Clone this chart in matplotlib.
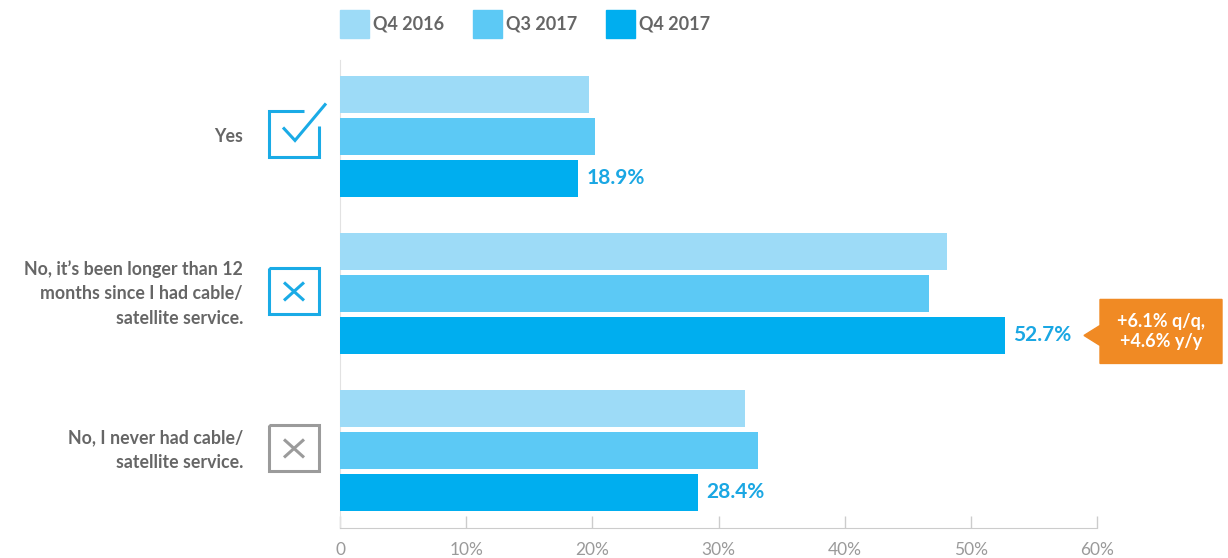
import matplotlib.pyplot as plt
import matplotlib.transforms as mtransforms
from matplotlib.patches import Rectangle, Polygon
from matplotlib.lines import Line2D

plt.rcParams['font.family'] = ['Lato', 'DejaVu Sans']

# survey answers and quarterly shares (%)
answers = ["Yes",
           "No, it\u2019s been longer than 12\nmonths since I had cable/\nsatellite service.",
           "No, I never had cable/\nsatellite service."]
quarters = ["Q4 2016", "Q3 2017", "Q4 2017"]
q4_2016 = [19.7, 48.1, 32.1]
q3_2017 = [20.2, 46.7, 33.1]
q4_2017 = [18.9, 52.7, 28.4]
callout_text = "+6.1% q/q,\n+4.6% y/y"
xticks = [0, 10, 20, 30, 40, 50, 60]

colors = ["#9DDBF7", "#5CC9F5", "#00AEEF"]
blue_text = "#1AA7E3"
gray_text = "#666666"

W, H = 1228, 558
fig = plt.figure(figsize=(W / 100, H / 100), dpi=100)
ax = fig.add_axes([340 / W, (H - 528) / H, (1097 - 340) / W, (528 - 60) / H])

# pixel coords with origin at top-left
px = mtransforms.Affine2D().scale(1 / W, -1 / H).translate(0, 1) + fig.transFigure

step = 42 / 157
height = 37 / 157
series = [q4_2016, q3_2017, q4_2017]
for k, vals in enumerate(series):
    ys = [i + (k - 1) * step for i in range(len(answers))]
    ax.barh(ys, vals, height=height, color=colors[k], zorder=3)

for i, v in enumerate(q4_2017):
    ax.text(v + 0.65, i + step, f"{v}%", va="center", ha="left",
            fontsize=15, fontweight="bold", color=blue_text)

ax.set_xlim(0, 60)
ax.set_ylim(2.494, -0.487)
ax.set_yticks([])
ax.set_xticks(xticks)
ax.set_xticklabels(["0"] + [f"{t}%" for t in xticks[1:]])
ax.tick_params(axis="x", direction="in", length=9, width=1, color="#cccccc",
               labelsize=12.5, labelcolor="#9a9a9a", pad=10)
for s in ["top", "right"]:
    ax.spines[s].set_visible(False)
ax.spines["bottom"].set_color("#cccccc")
ax.spines["left"].set_color("#e2e2e2")

# category labels and icons
def group_center(i):
    y = ax.transData.transform((0, i))[1]
    return H - y

for i, label in enumerate(answers):
    cy = group_center(i)
    fig.text(243 / W, 1 - cy / H, label, ha="right", va="center",
             fontsize=12.8, fontweight="bold", color=gray_text,
             linespacing=1.55)

icon_blue = "#1AABE6"
icon_gray = "#9b9b9b"
cx = 294

def draw(points, color, cy):
    xs = [cx + p[0] for p in points]
    ys = [cy + p[1] for p in points]
    fig.add_artist(Line2D(xs, ys, transform=px, color=color, lw=2.2,
                          solid_joinstyle="miter", solid_capstyle="butt"))

cy0 = group_center(0) - 2
draw([(10, -23), (-25, -23), (-25, 23), (25, 23), (25, -8)], icon_blue, cy0)
draw([(-11, -7), (1, 6), (32, -31)], icon_blue, cy0)

for i, col in [(1, icon_blue), (2, icon_gray)]:
    cy = group_center(i) - 2
    draw([(-25, -23), (25, -23), (25, 23), (-25, 23), (-25, -23)], col, cy)
    draw([(-10, -9), (10, 9)], col, cy)
    draw([(-10, 9), (10, -9)], col, cy)

# legend
for k, (name, x0) in enumerate(zip(quarters, [340, 473, 606])):
    fig.add_artist(Rectangle((x0, 10), 29, 28, transform=px,
                             color=colors[k]))
    fig.text((x0 + 33) / W, 1 - 24 / H, name, ha="left", va="center",
             fontsize=13, fontweight="bold", color=gray_text)

# callout next to the long-lapsed Q4 2017 bar
cy = group_center(1) + step * 157
orange = "#F08A24"
fig.add_artist(Polygon([(1100, cy - 36), (1222, cy - 36), (1222, cy + 28),
                        (1100, cy + 28), (1100, cy + 10), (1084, cy),
                        (1100, cy - 10)], closed=True, transform=px,
                       color=orange))
fig.text(1161 / W, 1 - (cy - 4) / H, callout_text, ha="center", va="center",
         fontsize=13, fontweight="bold", color="white", linespacing=1.25)

fig.savefig("out.png", dpi=100)
